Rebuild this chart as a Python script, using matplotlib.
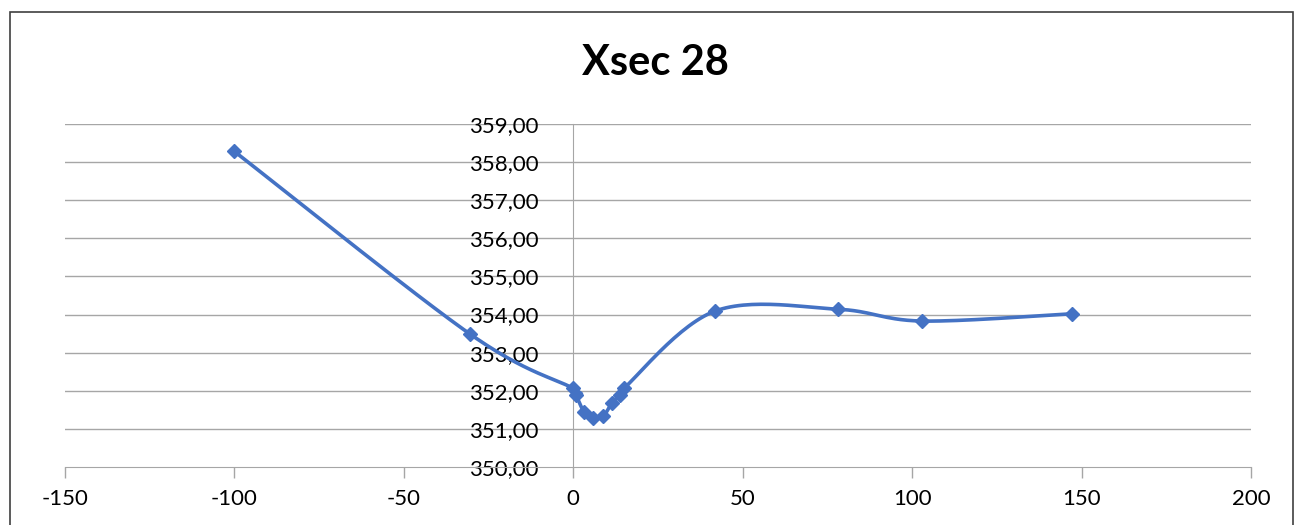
import numpy as np
import matplotlib
matplotlib.use("Agg")
import matplotlib.pyplot as plt
from matplotlib.patches import Rectangle

plt.rcParams['font.family'] = ['Lato', 'DejaVu Sans']
plt.rcParams['axes.unicode_minus'] = False

# data
xs = [-100, -30.5, 0, 0.8, 3.2, 5.8, 8.8, 11.4, 13.8, 14.9, 41.8, 78.1, 102.9, 147.1]
ys = [358.28, 353.49, 352.06, 351.89, 351.44, 351.28, 351.33, 351.68, 351.89, 352.06,
      354.09, 354.14, 353.83, 354.02]
title = "Xsec 28"
xticks = [-150, -100, -50, 0, 50, 100, 150, 200]
yticks = [350, 351, 352, 353, 354, 355, 356, 357, 358, 359]

blue = '#4472C4'
grid = '#A6A6A6'

fig = plt.figure(figsize=(13.02, 5.25), dpi=100)
fig.patches.append(Rectangle((10 / 1302, -0.1), 1283 / 1302, 1.1 - 12 / 525,
                             transform=fig.transFigure, fill=False,
                             edgecolor='#404040', linewidth=1.2))
ax = fig.add_axes([65 / 1302, 1 - 467 / 525, 1186 / 1302, 343 / 525])
ax.set_xlim(-150, 200)
ax.set_ylim(350, 359)


def smooth(px, py, n=30):
    # excel-like bezier smoothing in display space
    pts = ax.transData.transform(np.column_stack([px, py]))
    out = [pts[0]]
    for i in range(len(pts) - 1):
        p0 = pts[i - 1] if i > 0 else pts[i]
        p1 = pts[i]
        p2 = pts[i + 1]
        p3 = pts[i + 2] if i + 2 < len(pts) else pts[i + 1]
        c1 = p1 + (p2 - p0) / 6.0
        c2 = p2 - (p3 - p1) / 6.0
        t = np.linspace(0, 1, n)[1:, None]
        seg = ((1 - t) ** 3) * p1 + 3 * ((1 - t) ** 2) * t * c1 + 3 * (1 - t) * t ** 2 * c2 + t ** 3 * p2
        out.extend(seg)
    out = np.array(out)
    return ax.transData.inverted().transform(out)


curve = smooth(xs, ys)
ax.plot(curve[:, 0], curve[:, 1], color=blue, linewidth=2.6, zorder=3,
        solid_capstyle='round')
ax.plot(xs, ys, linestyle='none', marker='D', markersize=7.5, color=blue, zorder=4)

for y in yticks[1:]:
    ax.axhline(y, color=grid, linewidth=1, zorder=1)

for s in ['top', 'right']:
    ax.spines[s].set_visible(False)
ax.spines['left'].set_position(('data', 0))
ax.spines['left'].set_color(grid)
ax.spines['bottom'].set_color(grid)
ax.spines['left'].set_zorder(1)

ax.set_xticks(xticks)
ax.set_yticks(yticks)
ax.set_yticklabels([f"{v:.2f}".replace('.', ',') for v in yticks])
ax.tick_params(axis='y', length=0, pad=25, labelsize=16, labelcolor='#000000')
ax.tick_params(axis='x', length=8, width=1, color=grid, pad=8, labelsize=16,
               labelcolor='#000000')
for lbl in ax.get_yticklabels():
    lbl.set_zorder(5)

fig.text(655 / 1302, 1 - 63 / 525, title, ha='center', va='center',
         fontsize=30, fontweight='bold')

fig.savefig('out.png', dpi=100)
